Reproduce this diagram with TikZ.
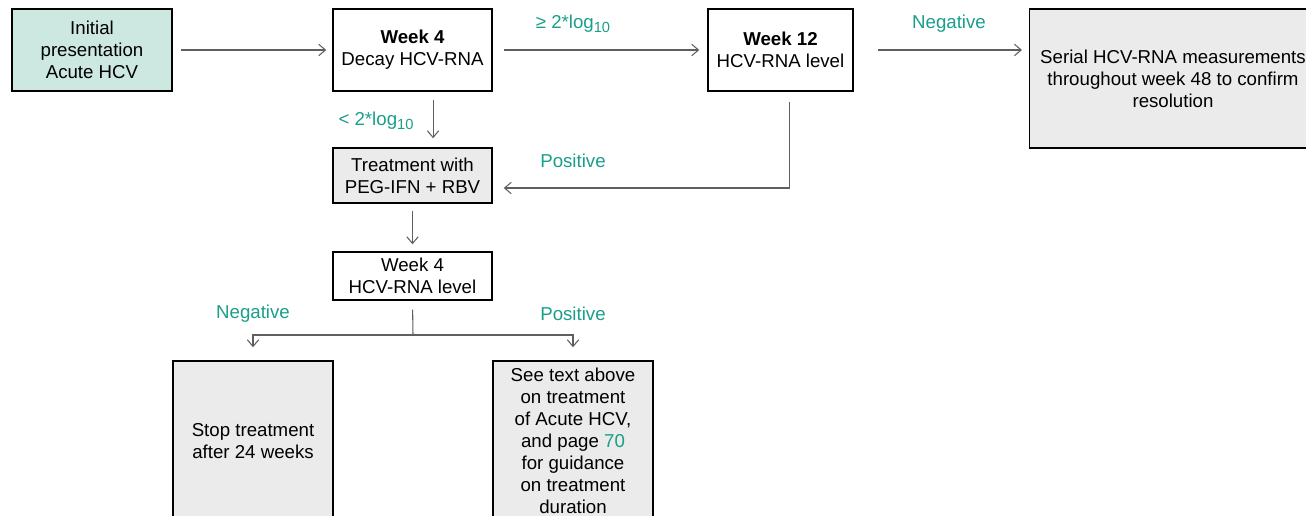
\documentclass[tikz,border=0pt]{standalone}
\usepackage{fontspec}
\setmainfont{Liberation Sans}
\usetikzlibrary{arrows.meta}
\definecolor{tealtxt}{RGB}{26,158,138}
\definecolor{tealfill}{RGB}{204,232,224}
\definecolor{boxgray}{RGB}{235,235,235}
\definecolor{linegray}{RGB}{95,95,95}
\newcommand{\logsub}{log\raisebox{-3pt}{\fontsize{11}{11}\selectfont 10}}
\begin{document}
\begin{tikzpicture}[x=0.75pt,y=-0.75pt,
  box/.style={draw=black,line width=1.1pt,align=center,inner sep=2pt,font=\fontsize{14}{16.5}\selectfont},
  txt/.style={align=center,inner sep=0pt,font=\fontsize{14}{16.5}\selectfont},
  conn/.style={draw=linegray,line width=0.8pt,-{Straight Barb[length=5pt,width=8.5pt]}},
  plain/.style={draw=linegray,line width=0.8pt},
  lab/.style={text=tealtxt,font=\fontsize{14}{16.5}\selectfont,inner sep=0pt}]
\useasboundingbox (0,0) rectangle (1306,516);
\clip (0,0) rectangle (1306,516);

\node[box,fill=tealfill,minimum width=120pt,minimum height=61.5pt] (init) at (92,50) {Initial\\presentation\\Acute HCV};
\node[box,minimum width=119.25pt,minimum height=61.5pt] (w4) at (412.5,50) {\textbf{Week 4}\\Decay HCV-RNA};
\node[box,minimum width=108.75pt,minimum height=61.5pt] (w12) at (780.5,50) {\textbf{Week 12}\\HCV-RNA level};
\node[box,fill=boxgray,minimum width=240pt,minimum height=104.25pt,anchor=west] (serial) at (1029,78.5) {};
\node[txt] (serialtxt) at (1173,78.5) {Serial HCV-RNA measurements\\throughout week 48 to confirm\\resolution};
\node[box,fill=boxgray,minimum width=119.25pt,minimum height=41.25pt] (treat) at (412.5,175.5) {Treatment with\\PEG-IFN + RBV};
\node[box,minimum width=119.25pt,minimum height=36pt] (w4b) at (412.5,276) {Week 4\\HCV-RNA level};
\node[box,fill=boxgray,minimum width=120pt,minimum height=120pt] (stop) at (253,441) {Stop treatment\\after 24 weeks};
\node[box,fill=boxgray,minimum width=120pt,minimum height=120pt] (see) at (573,441) {See text above\\on treatment\\of Acute HCV,\\and page \textcolor{tealtxt}{70}\\for guidance\\on treatment\\duration};

\coordinate (split) at (413,335);

\draw[conn,shorten <=6pt,shorten >=4.5pt] (init) -- (w4);
\draw[conn,shorten <=8.25pt,shorten >=6pt] (w4) -- (w12);
\draw[conn,shorten <=18pt,shorten >=5.25pt] (w12.east) -- (w12.east -| serial.west);
\draw[conn,shorten <=6pt,shorten >=6.75pt] ([xshift=15.4pt]w4.south) -- ([xshift=15.4pt]treat.north);
\draw[conn,shorten <=7.5pt,shorten >=8.25pt] ([xshift=6.4pt]w12.south) |- ([yshift=-9.4pt]treat.east);
\draw[conn,shorten <=5.25pt,shorten >=5.25pt] (treat) -- (w4b);
\draw[plain,shorten <=6.75pt] (w4b.south) -- (split);
\draw[conn,shorten >=9.75pt] (split) -| (stop.north);
\draw[conn,shorten >=9.75pt] (split) -| (see.north);

\node[lab,anchor=base] (l1) at (573,29) {≥ 2*\logsub};
\node[lab] (l2) at (949,24) {Negative};
\node[lab,anchor=base] (l3) at (376,126) {< 2*\logsub};
\node[lab] (l4) at (573,161) {Positive};
\node[lab] (l5) at (253,314) {Negative};
\node[lab] (l6) at (573,314) {Positive};
\end{tikzpicture}
\end{document}
